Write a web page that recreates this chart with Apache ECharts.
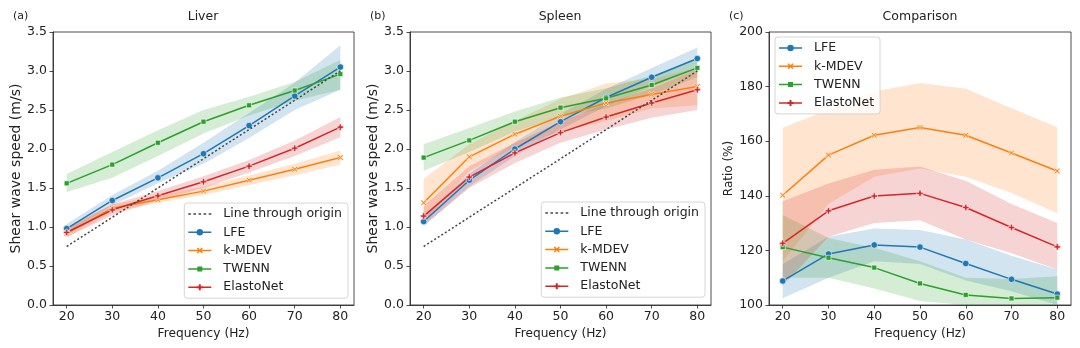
<!DOCTYPE html>
<html><head><meta charset="utf-8">
<script src="https://cdn.jsdelivr.net/npm/echarts@6/dist/echarts.min.js"></script>
<style>html,body{margin:0;padding:0;background:#fff}#c{width:1080px;height:348px}</style>
</head><body><div id="c"></div>
<script>
// ---------- DATA ----------
const freqs = [20, 30, 40, 50, 60, 70, 80];
const xTickLabels = [20, 30, 40, 50, 60, 70, 80];
const originLine = [0.75, 1.125, 1.5, 1.875, 2.25, 2.625, 3.0];

// Liver (m/s)
const liverLFE      = [0.98, 1.34, 1.63, 1.94, 2.30, 2.68, 3.05];
const liverLFELo    = [0.92, 1.28, 1.56, 1.81, 2.14, 2.50, 2.76];
const liverLFEHi    = [1.04, 1.41, 1.72, 2.08, 2.46, 2.85, 3.33];
const liverKM       = [0.92, 1.24, 1.35, 1.46, 1.60, 1.74, 1.89];
const liverKMLo     = [0.87, 1.19, 1.31, 1.41, 1.54, 1.66, 1.80];
const liverKMHi     = [0.98, 1.29, 1.40, 1.52, 1.66, 1.81, 1.98];
const liverTW       = [1.56, 1.80, 2.08, 2.35, 2.56, 2.75, 2.96];
const liverTWLo     = [1.45, 1.63, 1.91, 2.20, 2.43, 2.62, 2.76];
const liverTWHi     = [1.68, 1.96, 2.24, 2.50, 2.67, 2.86, 3.14];
const liverEN       = [0.93, 1.22, 1.40, 1.58, 1.78, 2.01, 2.28];
const liverENLo     = [0.87, 1.15, 1.34, 1.50, 1.70, 1.91, 2.15];
const liverENHi     = [0.99, 1.29, 1.46, 1.65, 1.86, 2.11, 2.41];

// Spleen (m/s)
const spleenLFE     = [1.07, 1.60, 2.00, 2.35, 2.66, 2.92, 3.16];
const spleenLFELo   = [1.01, 1.52, 1.91, 2.25, 2.55, 2.80, 3.02];
const spleenLFEHi   = [1.13, 1.68, 2.09, 2.45, 2.77, 3.04, 3.30];
const spleenKM      = [1.31, 1.90, 2.19, 2.42, 2.59, 2.70, 2.80];
const spleenKMLo    = [1.05, 1.72, 2.03, 2.22, 2.36, 2.52, 2.56];
const spleenKMHi    = [1.62, 2.06, 2.36, 2.64, 2.84, 2.90, 3.04];
const spleenTW      = [1.89, 2.11, 2.35, 2.53, 2.65, 2.82, 3.04];
const spleenTWLo    = [1.72, 1.96, 2.22, 2.41, 2.52, 2.70, 2.92];
const spleenTWHi    = [2.06, 2.27, 2.48, 2.66, 2.78, 2.94, 3.16];
const spleenEN      = [1.14, 1.64, 1.95, 2.21, 2.41, 2.59, 2.76];
const spleenENLo    = [1.02, 1.50, 1.82, 2.08, 2.25, 2.40, 2.50];
const spleenENHi    = [1.27, 1.78, 2.08, 2.35, 2.58, 2.78, 3.02];

// Comparison (ratio %)
const cmpLFE        = [108.8, 118.7, 122.0, 121.2, 115.2, 109.4, 104.0];
const cmpLFELo      = [102.5, 110.0, 116.0, 115.0, 109.0, 105.0, 100.0];
const cmpLFEHi      = [115.0, 125.0, 128.0, 127.5, 124.0, 118.0, 113.0];
const cmpKM         = [140.2, 154.9, 162.2, 165.0, 162.2, 155.7, 149.1];
const cmpKMLo       = [116.0, 137.0, 147.0, 150.0, 147.0, 141.0, 133.6];
const cmpKMHi       = [164.9, 171.5, 178.2, 181.3, 179.2, 172.1, 165.1];
const cmpTW         = [121.2, 117.3, 113.7, 107.9, 103.7, 102.4, 102.7];
const cmpTWLo       = [110.0, 110.0, 106.0, 101.5, 100.0, 100.0, 100.0];
const cmpTWHi       = [133.0, 124.5, 121.0, 116.0, 110.0, 109.5, 110.5];
const cmpEN         = [122.6, 134.5, 139.9, 140.9, 135.7, 128.4, 121.3];
const cmpENLo       = [107.0, 125.0, 130.0, 131.0, 124.0, 119.0, 113.0];
const cmpENHi       = [138.0, 144.5, 149.5, 150.7, 145.5, 137.0, 130.0];

const names = ['LFE', 'k-MDEV', 'TWENN', 'ElastoNet'];
const originName = 'Line through origin';

// ---------- STYLE ----------
const COLORS = {'LFE': '#1f77b4', 'k-MDEV': '#ff7f0e', 'TWENN': '#2ca02c', 'ElastoNet': '#d62728'};
const SYMBOLS = {
  'LFE': 'circle',
  'k-MDEV': 'path://M-2,-3L0,-1L2,-3L3,-2L1,0L3,2L2,3L0,1L-2,3L-3,2L-1,0L-3,-2Z',
  'TWENN': 'rect',
  'ElastoNet': 'path://M-1,-3H1V-1H3V1H1V3H-1V1H-3V-1H-1Z'
};
const SIZES = {'LFE': 6.5, 'k-MDEV': 6, 'TWENN': 5, 'ElastoNet': 6.5};
// legend handles: line + marker, drawn in a 23 x 8 box
const LINE_PATH = 'M0,3.25H23V4.75H0Z';
const LEGEND_ICONS = {
  'LFE': 'path://' + LINE_PATH + 'M8.25,4A3.25,3.25,0,0,1,14.75,4A3.25,3.25,0,0,1,8.25,4Z',
  'k-MDEV': 'path://' + LINE_PATH + 'M9.5,1L11.5,3L13.5,1L14.5,2L12.5,4L14.5,6L13.5,7L11.5,5L9.5,7L8.5,6L10.5,4L8.5,2Z',
  'TWENN': 'path://' + LINE_PATH + 'M9,1.5H14V6.5H9Z',
  'ElastoNet': 'path://' + LINE_PATH + 'M10.5,1H12.5V3H14.5V5H12.5V7H10.5V5H8.5V3H10.5Z',
  [originName]: 'path://M0,3.25h2.6v1.5h-2.6ZM5.1,3.25h2.6v1.5h-2.6ZM10.2,3.25h2.6v1.5h-2.6ZM15.3,3.25h2.6v1.5h-2.6ZM20.4,3.25h2.6v1.5h-2.6Z'
};
const FONT = 'DejaVu Sans';
const TXT = '#222';

const grids = [
  {left: 53, top: 32, width: 301, height: 273},
  {left: 410, top: 32, width: 301, height: 273},
  {left: 769, top: 32, width: 302, height: 273}
];

function pairs(vals) { return freqs.map((x, i) => [x, vals[i]]); }

function lineSeries(g, name, vals) {
  return {
    type: 'line', name: name, xAxisIndex: g, yAxisIndex: g, z: 3,
    data: pairs(vals), symbol: SYMBOLS[name], symbolSize: SIZES[name], showSymbol: true,
    lineStyle: {color: COLORS[name], width: 1.5},
    itemStyle: {color: COLORS[name], borderColor: '#fff', borderWidth: 0.6},
    emphasis: {disabled: true}, animation: false
  };
}
function bandSeries(g, name, lo, hi) {
  return {
    type: 'custom', name: name + ' band ' + g, xAxisIndex: g, yAxisIndex: g, z: 1,
    silent: true, clip: true, animation: false,
    data: freqs.map((x, i) => [x, lo[i], hi[i]]),
    encode: {x: 0, y: [1, 2]},
    renderItem: function (params, api) {
      if (params.dataIndex !== 0) return null;
      const pts = [];
      for (let i = 0; i < freqs.length; i++) pts.push(api.coord([freqs[i], hi[i]]));
      for (let i = freqs.length - 1; i >= 0; i--) pts.push(api.coord([freqs[i], lo[i]]));
      return {type: 'polygon', shape: {points: pts}, style: {fill: COLORS[name], opacity: 0.2}};
    }
  };
}
function originSeries(g) {
  return {
    type: 'line', name: originName, xAxisIndex: g, yAxisIndex: g, z: 4,
    data: pairs(originLine), symbol: 'none', showSymbol: false,
    lineStyle: {color: '#444', width: 1.5, type: [2, 2.2]},
    itemStyle: {color: '#444'},
    emphasis: {disabled: true}, animation: false
  };
}

function xAxis(g) {
  return {
    type: 'value', gridIndex: g, min: 17, max: 83,
    name: 'Frequency (Hz)', nameLocation: 'middle', nameGap: 21,
    nameTextStyle: {fontSize: 12.2, color: TXT, fontFamily: FONT},
    axisLine: {show: true, lineStyle: {color: '#222', width: 0.8}},
    axisTick: {show: true, customValues: xTickLabels, length: 3.5, lineStyle: {color: '#222', width: 0.8}},
    axisLabel: {customValues: xTickLabels, fontSize: 12.5, color: TXT, fontFamily: FONT, margin: 5},
    splitLine: {show: false}
  };
}
function yAxis(g, min, max, interval, name, gap, nameSize, fmt) {
  return {
    type: 'value', gridIndex: g, min: min, max: max, interval: interval,
    name: name, nameLocation: 'middle', nameGap: gap,
    nameTextStyle: {fontSize: nameSize, color: TXT, fontFamily: FONT},
    axisLine: {show: true, lineStyle: {color: '#222', width: 0.8}},
    axisTick: {show: true, length: 3.5, lineStyle: {color: '#222', width: 0.8}},
    axisLabel: {fontSize: 12.5, color: TXT, fontFamily: FONT, margin: 6, formatter: fmt},
    splitLine: {show: false}
  };
}

function legend(pos, data) {
  return Object.assign({
    orient: 'vertical', selectedMode: false,
    data: data.map(n => ({name: n, icon: LEGEND_ICONS[n]})),
    itemWidth: 23, itemHeight: 8, itemGap: 4.3, symbolKeepAspect: true,
    itemStyle: {borderWidth: 0},
    padding: [4, 6, 4, 4],
    borderColor: '#cccccc', borderWidth: 0.8, borderRadius: 3,
    backgroundColor: 'rgba(255,255,255,0.8)',
    textStyle: {fontSize: 12.5, color: TXT, fontFamily: FONT, lineHeight: 14, padding: [0, 0, 0, 7]}
  }, pos);
}

const series = [];
const panels = [
  {g: 0, data: [[liverLFE, liverLFELo, liverLFEHi], [liverKM, liverKMLo, liverKMHi], [liverTW, liverTWLo, liverTWHi], [liverEN, liverENLo, liverENHi]], origin: true},
  {g: 1, data: [[spleenLFE, spleenLFELo, spleenLFEHi], [spleenKM, spleenKMLo, spleenKMHi], [spleenTW, spleenTWLo, spleenTWHi], [spleenEN, spleenENLo, spleenENHi]], origin: true},
  {g: 2, data: [[cmpLFE, cmpLFELo, cmpLFEHi], [cmpKM, cmpKMLo, cmpKMHi], [cmpTW, cmpTWLo, cmpTWHi], [cmpEN, cmpENLo, cmpENHi]], origin: false}
];
panels.forEach(p => {
  p.data.forEach((d, k) => series.push(bandSeries(p.g, names[k], d[1], d[2])));
  if (p.origin) series.push(originSeries(p.g));
  p.data.forEach((d, k) => series.push(lineSeries(p.g, names[k], d[0])));
});

function title(text, x, y, size, align) {
  return {text: text, left: x, top: y, textAlign: align, padding: 0,
    textStyle: {fontSize: size, fontWeight: 'normal', color: TXT, fontFamily: FONT}};
}

const option = {
  animation: false,
  backgroundColor: '#fff',
  title: [
    title('(a)', 13, 11, 11, 'left'), title('Liver', 203, 10, 12.5, 'center'),
    title('(b)', 370, 11, 11, 'left'), title('Spleen', 560, 10, 12.5, 'center'),
    title('(c)', 729, 11, 11, 'left'), title('Comparison', 920, 10, 12.5, 'center')
  ],
  grid: grids.map(g => Object.assign({show: true, borderColor: '#222', borderWidth: 0.8, backgroundColor: 'transparent', containLabel: false}, g)),
  xAxis: [xAxis(0), xAxis(1), xAxis(2)],
  yAxis: [
    yAxis(0, 0, 3.5, 0.5, 'Shear wave speed (m/s)', 28, 14, v => v.toFixed(1)),
    yAxis(1, 0, 3.5, 0.5, 'Shear wave speed (m/s)', 28, 14, v => v.toFixed(1)),
    yAxis(2, 100, 200, 20, 'Ratio (%)', 32, 12, v => String(v))
  ],
  legend: [
    legend({right: 1080 - 348, top: 203}, [originName].concat(names)),
    legend({right: 1080 - 705, top: 202}, [originName].concat(names)),
    legend({left: 775, top: 37}, names)
  ],
  series: series
};
const chart = echarts.init(document.getElementById('c'), null, {renderer: 'canvas'});
chart.setOption(option);
</script></body></html>
